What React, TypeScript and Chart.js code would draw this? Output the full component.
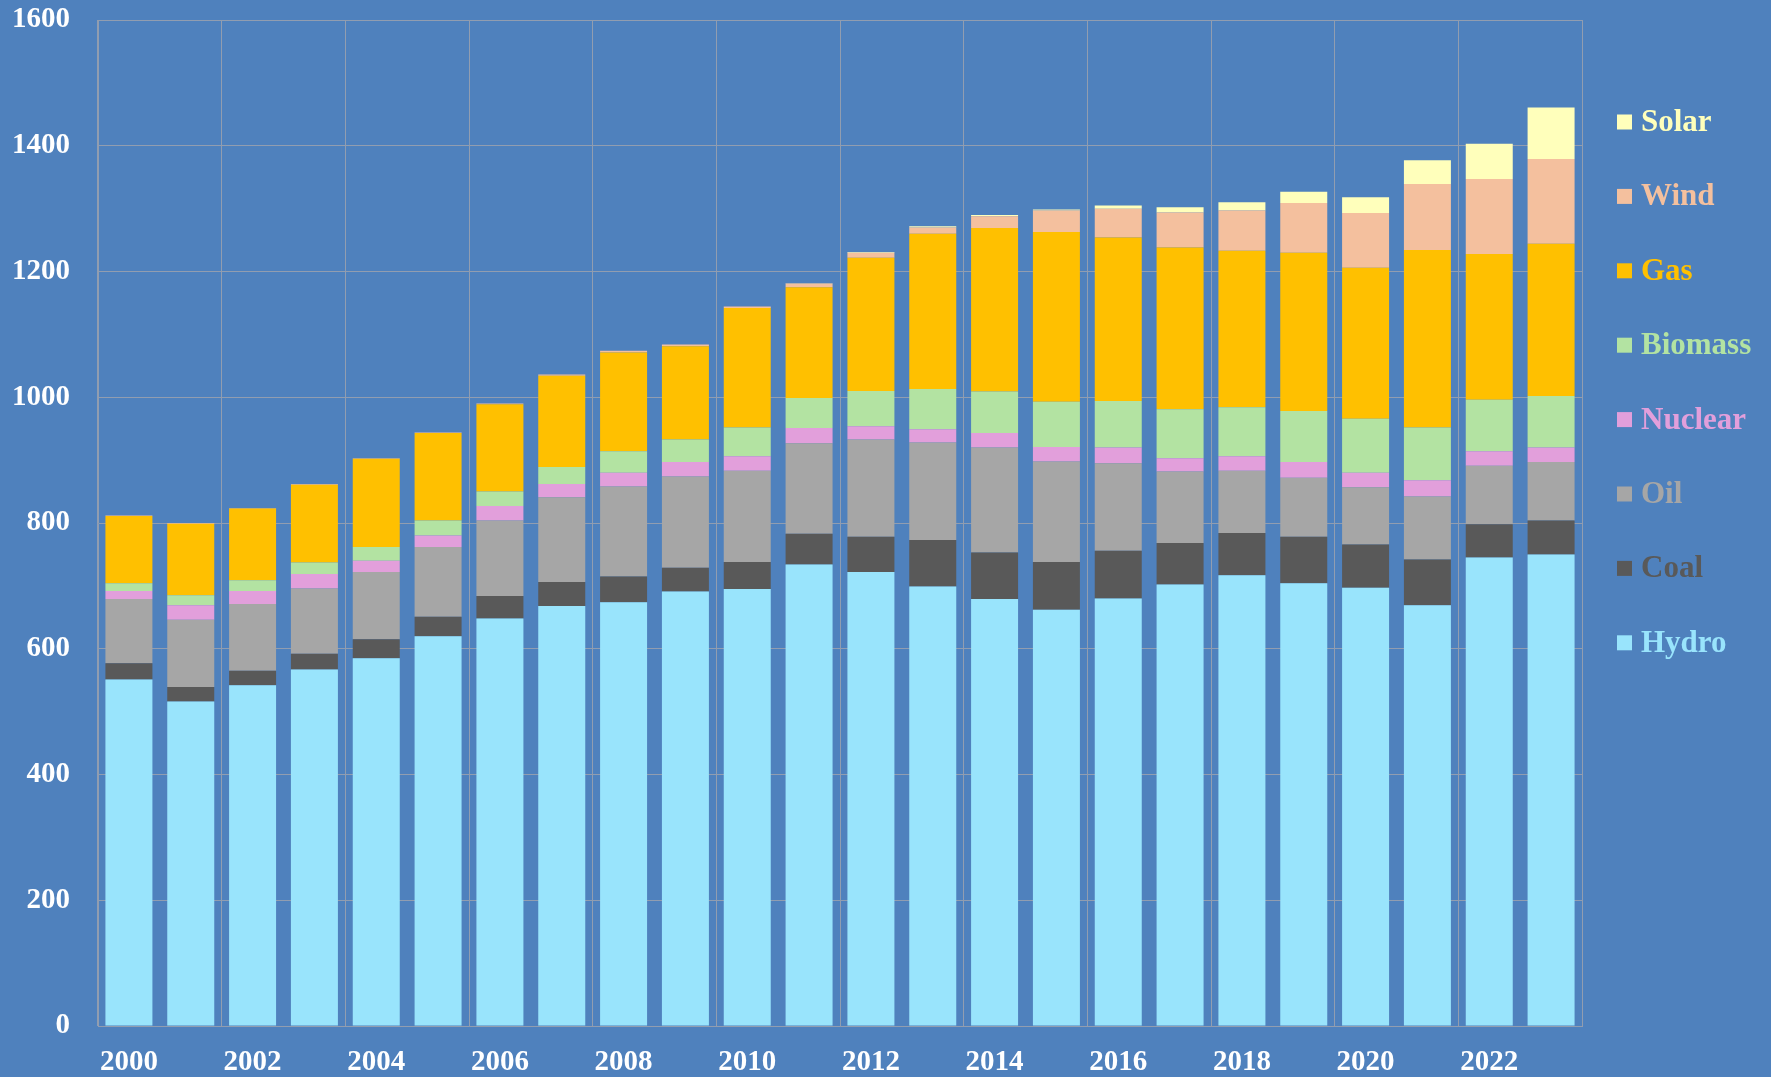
import React, { useEffect, useRef } from "react";
import { Chart, registerables } from "chart.js";

Chart.register(...registerables);

const years = [
  "2000", "2001", "2002", "2003", "2004", "2005", "2006", "2007", "2008", "2009", "2010", "2011",
  "2012", "2013", "2014", "2015", "2016", "2017", "2018", "2019", "2020", "2021", "2022", "2023",
];

const hydro = [551, 516, 542, 567, 585, 620, 648, 668, 674, 691, 695, 734, 722, 699, 679, 662, 680, 702, 717, 704, 697, 669, 745, 750];
const coal = [26, 23, 23, 25, 30, 31, 36, 38, 41, 38, 43, 49, 56, 74, 74, 76, 76, 66, 67, 74, 69, 73, 53, 54];
const oil = [102, 107, 106, 104, 107, 111, 120, 135, 143, 145, 145, 144, 155, 155, 167, 160, 139, 114, 99, 94, 91, 100, 93, 93];
const nuclear = [13, 23, 21, 23, 18, 18, 23, 21, 22, 23, 23, 24, 21, 21, 23, 23, 25, 21, 23, 25, 23, 26, 23, 23];
const biomass = [12, 16, 17, 18, 22, 24, 23, 27, 34, 36, 46, 48, 56, 64, 66, 72, 74, 78, 78, 81, 86, 84, 82, 82];
const gas = [107, 114, 114, 124, 140, 139, 139, 145, 157, 148, 190, 176, 212, 247, 260, 270, 260, 257, 249, 252, 240, 282, 232, 242];
const wind = [1, 1, 1, 1, 1, 1, 1, 2, 3, 3, 2.5, 6, 8, 10, 19, 34, 46, 56, 64, 79, 87, 105, 119, 135];
const solar = [0, 0, 0, 0, 0, 0, 0, 0, 0, 0, 0, 0.5, 1, 2, 2, 1.5, 5, 8, 13, 18, 25, 38, 56, 82];

const yTicks = [0, 200, 400, 600, 800, 1000, 1200, 1400, 1600];

const seriesNames = ["Hydro", "Coal", "Oil", "Nuclear", "Biomass", "Gas", "Wind", "Solar"];
const seriesValues = [hydro, coal, oil, nuclear, biomass, gas, wind, solar];
const seriesColors = ["#99E4FC", "#595959", "#A6A6A6", "#E29FDB", "#B3E3A2", "#FFC000", "#F4C09E", "#FFFFBB"];

const BG = "#4F81BD";
const GRID = "rgb(145,157,176)";
const FONT = '"Liberation Serif", "DejaVu Serif", serif';

const sideLegend = {
  id: "sideLegend",
  afterDraw(chart: any) {
    const { ctx, chartArea } = chart;
    const ds = chart.data.datasets;
    ctx.save();
    ctx.font = `bold 31px ${FONT}`;
    ctx.textBaseline = "middle";
    ctx.textAlign = "left";
    const x0 = chartArea.right + 35;
    const y0 = chartArea.top + 102;
    const step = 74.4;
    for (let k = 0; k < ds.length; k++) {
      const d = ds[ds.length - 1 - k];
      const y = y0 + k * step;
      ctx.fillStyle = d.backgroundColor;
      ctx.fillRect(x0, y - 7.5, 15, 15);
      ctx.fillText(d.label, x0 + 24, y + 1);
    }
    ctx.restore();
  },
};

export default function App() {
  const canvasRef = useRef<HTMLCanvasElement | null>(null);

  useEffect(() => {
    document.body.style.margin = "0";
    document.body.style.background = BG;
    const canvas = canvasRef.current;
    if (!canvas) return;
    const chart = new Chart(canvas, {
      type: "bar",
      data: {
        labels: years,
        datasets: seriesNames.map((name, i) => ({
          label: name,
          data: seriesValues[i],
          backgroundColor: seriesColors[i],
          borderWidth: 0,
          barPercentage: 0.76,
          categoryPercentage: 1,
        })),
      },
      options: {
        animation: false,
        responsive: false,
        devicePixelRatio: 1,
        layout: { padding: { top: 20, right: 189, bottom: 0, left: 0 } },
        plugins: {
          legend: { display: false },
          tooltip: { enabled: false },
        },
        scales: {
          x: {
            stacked: true,
            afterFit: (scale: any) => {
              scale.height = 51;
              scale.paddingLeft = 0;
              scale.paddingRight = 0;
            },
            grid: {
              offset: true,
              drawTicks: false,
              lineWidth: 1,
              color: (ctx: any) =>
                ctx.index === undefined || ctx.index % 2 === 0 ? GRID : "rgba(0,0,0,0)",
            },
            border: { display: true, color: GRID, width: 1 },
            ticks: {
              autoSkip: false,
              maxRotation: 0,
              minRotation: 0,
              padding: 19,
              color: "#FFFFFF",
              font: { family: FONT, size: 29, weight: "bold" },
              callback: (_v: any, i: number) => (i % 2 === 0 ? years[i] : ""),
            },
          },
          y: {
            stacked: true,
            min: yTicks[0],
            max: yTicks[yTicks.length - 1],
            afterFit: (scale: any) => {
              scale.width = 98;
              scale.paddingTop = 0;
              scale.paddingBottom = 0;
            },
            afterBuildTicks: (scale: any) => {
              scale.ticks = yTicks.map((v) => ({ value: v }));
            },
            grid: { color: GRID, lineWidth: 1, drawTicks: false },
            border: { display: true, color: GRID, width: 1 },
            ticks: {
              padding: 28,
              color: "#FFFFFF",
              font: { family: FONT, size: 29, weight: "bold" },
              callback: (v: any) => String(v),
            },
          },
        },
      },
      plugins: [sideLegend],
    });
    return () => chart.destroy();
  }, []);

  return (
    <div style={{ width: 1771, height: 1077, background: BG, position: "relative" }}>
      <canvas ref={canvasRef} width={1771} height={1077} style={{ display: "block" }} />
    </div>
  );
}
